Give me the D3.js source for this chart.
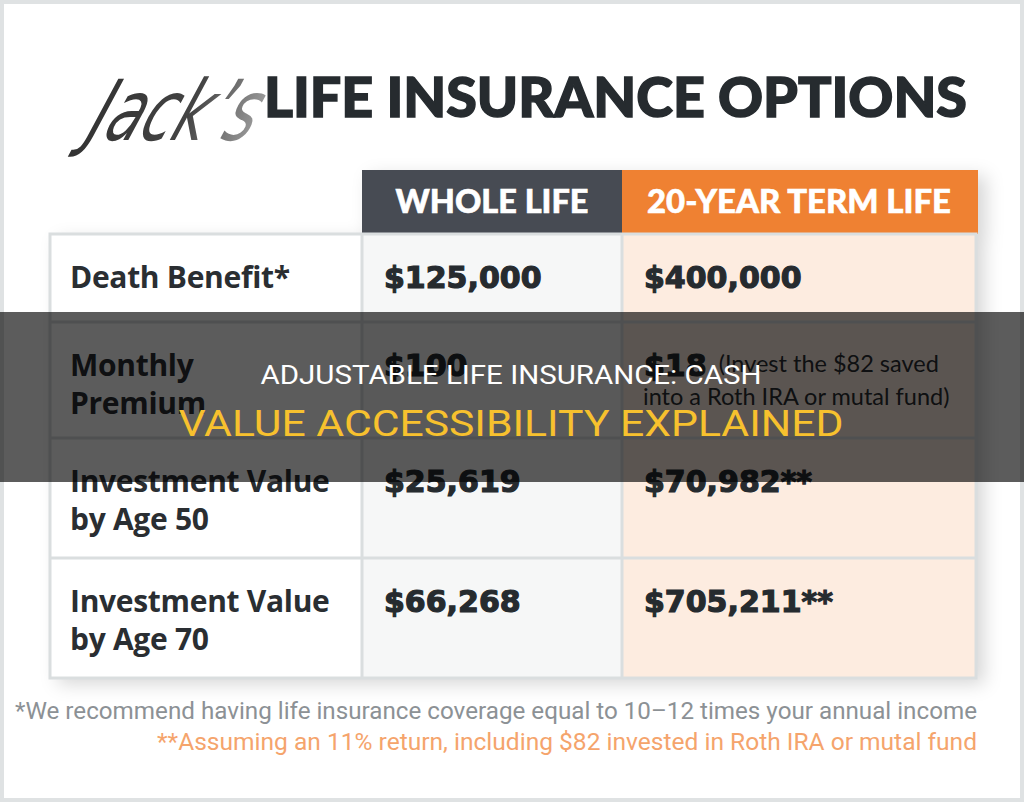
<!DOCTYPE html>
<html>
<head>
<meta charset="utf-8">
<script src="https://cdn.jsdelivr.net/npm/d3@7"></script>
<style>
  html, body { margin: 0; padding: 0; background: #fff; }
  svg { display: block; }
</style>
</head>
<body>
<svg id="chart" width="1024" height="802"></svg>
<script>
// table content
const columns = ["WHOLE LIFE", "20-YEAR TERM LIFE"];
const rowLabels = [
  ["Death Benefit*"],
  ["Monthly", "Premium"],
  ["Investment Value", "by Age 50"],
  ["Investment Value", "by Age 70"]
];
const wholeLife = ["$125,000", "$100", "$25,619", "$66,268"];
const termLife = ["$400,000", "$18", "$70,982**", "$705,211**"];
const termNotes = [[], ["(Invest the $82 saved", "into a Roth IRA or mutal fund)"], [], []];
const footnotes = [
  "*We recommend having life insurance coverage equal to 10\u201312 times your annual income",
  "**Assuming an 11% return, including $82 invested in Roth IRA or mutal fund"
];
const bannerLines = ["ADJUSTABLE LIFE INSURANCE: CASH", "VALUE ACCESSIBILITY EXPLAINED"];

const svg = d3.select("#chart");
const W = 1024, H = 802;

// column and row layout
const colKeys = ["label", "whole", "term"];
const x = d3.scaleOrdinal().domain(colKeys).range([50, 362, 622]);
const colW = d3.scaleOrdinal().domain(colKeys).range([312, 260, 354]);
const colFill = d3.scaleOrdinal().domain(colKeys).range(["#ffffff", "#f6f7f7", "#fdece0"]);
const rowIdx = d3.range(rowLabels.length);
const y = d3.scaleOrdinal().domain(rowIdx).range([234, 322, 438, 558]);
const tableTop = 234, tableBottom = 678;

const defs = svg.append("defs");
const shadow = defs.append("filter").attr("id", "shadow")
  .attr("x", "-10%").attr("y", "-10%").attr("width", "130%").attr("height", "130%");
shadow.append("feDropShadow").attr("dx", 8).attr("dy", 6).attr("stdDeviation", 9)
  .attr("flood-color", "#000").attr("flood-opacity", 0.16);
const grad = defs.append("linearGradient").attr("id", "ink")
  .attr("x1", "0").attr("x2", "1").attr("y1", "0").attr("y2", "0");
grad.append("stop").attr("offset", "0").attr("stop-color", "#333");
grad.append("stop").attr("offset", "0.6").attr("stop-color", "#444");
grad.append("stop").attr("offset", "1").attr("stop-color", "#999");

// frame
svg.append("rect").attr("width", W).attr("height", H).attr("fill", "#fff");
svg.append("rect").attr("x", 2).attr("y", 2).attr("width", W - 4).attr("height", H - 4)
  .attr("fill", "none").attr("stroke", "#dfe2e3").attr("stroke-width", 4);

// title
svg.append("text")
  .attr("transform", "translate(84,140) skewX(-22)")
  .attr("font-family", "DejaVu Sans").attr("font-weight", 200).attr("font-style", "italic")
  .attr("font-size", 84).attr("fill", "url(#ink)")
  .attr("textLength", 165).attr("lengthAdjust", "spacingAndGlyphs")
  .text("Jack\u2019s");
svg.append("text")
  .attr("x", 264).attr("y", 117)
  .attr("font-family", "Lato").attr("font-weight", 900).attr("font-size", 55)
  .attr("fill", "#262b2f").attr("stroke", "#262b2f").attr("stroke-width", 1.4)
  .attr("textLength", 703).attr("lengthAdjust", "spacingAndGlyphs")
  .text("LIFE INSURANCE OPTIONS");

// table body with shadow
const table = svg.append("g");
const headG = table.append("g").attr("filter", "url(#shadow)");
headG.selectAll("rect.head")
  .data(columns)
  .join("rect")
  .attr("class", "head")
  .attr("x", (d, i) => x(colKeys[i + 1]))
  .attr("y", 170)
  .attr("width", (d, i) => colW(colKeys[i + 1]) + (i === 1 ? 2 : 0))
  .attr("height", 64)
  .attr("fill", (d, i) => i === 0 ? "#474c52" : "#ef8132");
headG.selectAll("rect.col")
  .data(colKeys)
  .join("rect")
  .attr("class", "col")
  .attr("x", d => x(d))
  .attr("y", tableTop)
  .attr("width", d => colW(d))
  .attr("height", tableBottom - tableTop)
  .attr("fill", d => colFill(d));

const headW = [193, 304];
table.selectAll("text.head")
  .data(columns)
  .join("text")
  .attr("class", "head")
  .attr("x", (d, i) => x(colKeys[i + 1]) + colW(colKeys[i + 1]) / 2)
  .attr("y", 213)
  .attr("text-anchor", "middle")
  .attr("font-family", "Lato").attr("font-weight", 900).attr("font-size", 33)
  .attr("fill", "#fff").attr("stroke", "#fff").attr("stroke-width", 0.6)
  .attr("textLength", (d, i) => headW[i]).attr("lengthAdjust", "spacingAndGlyphs")
  .text(d => d);

// grid lines
const grid = table.append("g").attr("stroke", "#dadedf").attr("stroke-width", 3).attr("fill", "none");
grid.selectAll("line.h")
  .data(rowIdx.slice(1))
  .join("line")
  .attr("x1", 50).attr("x2", 976)
  .attr("y1", d => y(d)).attr("y2", d => y(d));
grid.selectAll("line.v")
  .data(colKeys.slice(1))
  .join("line")
  .attr("x1", d => x(d)).attr("x2", d => x(d))
  .attr("y1", tableTop).attr("y2", tableBottom);
grid.append("rect")
  .attr("x", 50).attr("y", tableTop).attr("width", 926).attr("height", tableBottom - tableTop);

// row labels
const first = 54, lineGap = 38;
const labelG = table.append("g");
rowIdx.forEach(i => {
  labelG.append("text")
    .attr("font-family", "Open Sans").attr("font-weight", 700).attr("font-size", 30)
    .attr("fill", "#2a2e32").attr("letter-spacing", -0.3)
    .selectAll("tspan")
    .data(rowLabels[i])
    .join("tspan")
    .attr("x", x("label") + 20)
    .attr("y", (d, j) => y(i) + first + j * lineGap)
    .text(d => d);
});

// values
function valueText(col, vals) {
  return table.append("g").selectAll("text")
    .data(vals)
    .join("text")
    .attr("x", x(col) + 22)
    .attr("y", (d, i) => y(i) + first)
    .attr("font-family", "DejaVu Sans").attr("font-weight", 700).attr("font-size", 30)
    .attr("fill", "#262b2f").attr("stroke", "#262b2f").attr("stroke-width", 1.2)
    .text(d => d);
}
valueText("whole", wholeLife);
const termTexts = valueText("term", termLife);

// notes next to term premium
termTexts.each(function (d, i) {
  const notes = termNotes[i];
  if (!notes.length) return;
  const endX = x("term") + 22 + this.getComputedTextLength();
  table.append("text")
    .attr("font-family", "Lato").attr("font-weight", 400).attr("font-size", 23.5)
    .attr("fill", "#2a2e32")
    .selectAll("tspan")
    .data(notes)
    .join("tspan")
    .attr("x", (n, j) => j === 0 ? endX + 12 : x("term") + 21)
    .attr("y", (n, j) => y(i) + 50 + j * 33)
    .text(n => n);
});

// footnotes
svg.append("text")
  .attr("x", 15).attr("y", 719)
  .attr("font-family", "Roboto").attr("font-size", 24).attr("fill", "#8c9195")
  .attr("textLength", 962).attr("lengthAdjust", "spacingAndGlyphs")
  .text(footnotes[0]);
svg.append("text")
  .attr("x", 977).attr("y", 750).attr("text-anchor", "end")
  .attr("font-family", "Roboto").attr("font-size", 24).attr("fill", "#f5a46c")
  .attr("textLength", 820).attr("lengthAdjust", "spacingAndGlyphs")
  .text(footnotes[1]);

// overlay banner
svg.append("rect")
  .attr("x", 0).attr("y", 312).attr("width", W).attr("height", 170)
  .attr("fill", "#000").attr("fill-opacity", 0.64);
svg.append("text")
  .attr("x", 511).attr("y", 384).attr("text-anchor", "middle")
  .attr("font-family", "Roboto").attr("font-size", 26).attr("fill", "#fff")
  .attr("textLength", 501).attr("lengthAdjust", "spacingAndGlyphs")
  .text(bannerLines[0]);
svg.append("text")
  .attr("x", 511).attr("y", 436).attr("text-anchor", "middle")
  .attr("font-family", "Roboto").attr("font-size", 36).attr("fill", "#f7c12e")
  .attr("textLength", 665).attr("lengthAdjust", "spacingAndGlyphs")
  .text(bannerLines[1]);
</script>
</body>
</html>
